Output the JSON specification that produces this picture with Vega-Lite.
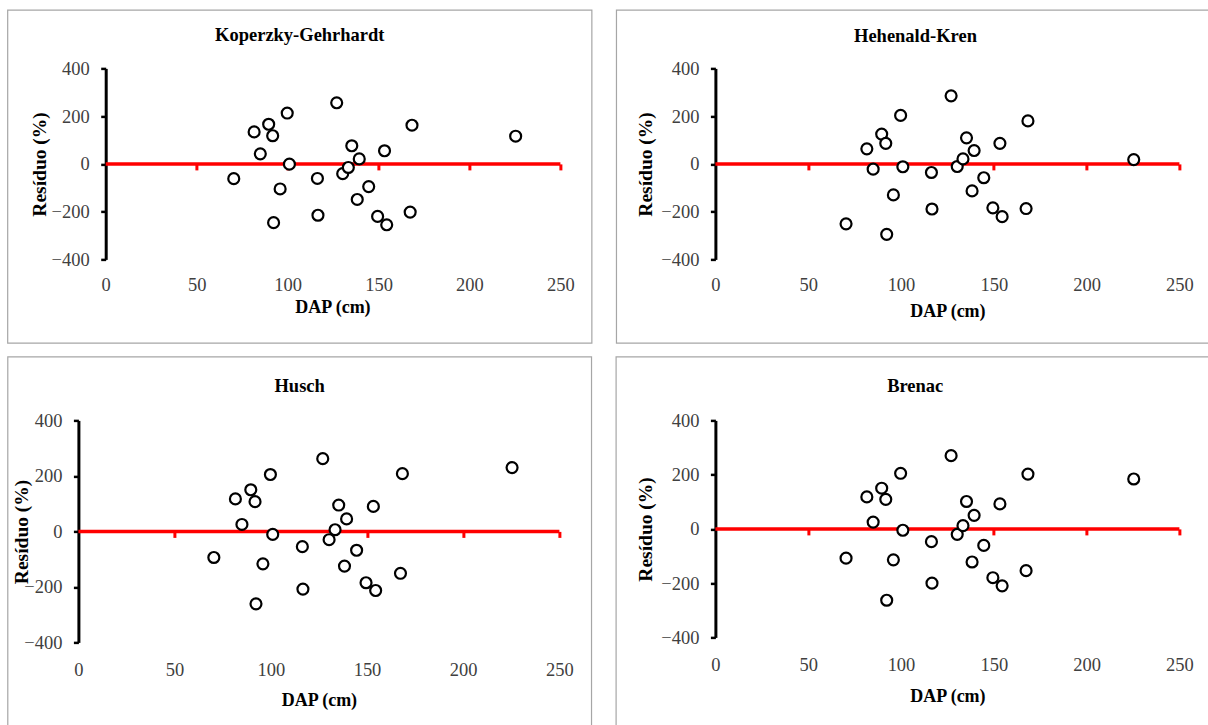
{
  "$schema": "https://vega.github.io/schema/vega-lite/v6.json",
  "background": "white",
  "padding": {"left": 6.4, "top": 9.4, "right": 0, "bottom": 0},
  "columns": 2,
  "spacing": {"row": 11, "column": 22},
  "datasets": {
    "res": [
      {"DAP": 70.4, "KG": -62, "HK": -251, "HU": -94, "BR": -108},
      {"DAP": 81.6, "KG": 134, "HK": 63, "HU": 117, "BR": 118},
      {"DAP": 85.0, "KG": 42, "HK": -22, "HU": 25, "BR": 25},
      {"DAP": 89.6, "KG": 166, "HK": 125, "HU": 150, "BR": 150},
      {"DAP": 91.8, "KG": 118, "HK": 86, "HU": 107, "BR": 109},
      {"DAP": 92.3, "KG": -246, "HK": -295, "HU": -261, "BR": -263},
      {"DAP": 95.9, "KG": -105, "HK": -130, "HU": -117, "BR": -114},
      {"DAP": 99.8, "KG": 213, "HK": 203, "HU": 205, "BR": 205},
      {"DAP": 101.0, "KG": -1, "HK": -12, "HU": -11, "BR": -5},
      {"DAP": 116.4, "KG": -61, "HK": -36, "HU": -55, "BR": -47},
      {"DAP": 116.7, "KG": -215, "HK": -189, "HU": -208, "BR": -200},
      {"DAP": 127.0, "KG": 256, "HK": 285, "HU": 262, "BR": 270},
      {"DAP": 130.3, "KG": -41, "HK": -11, "HU": -30, "BR": -20},
      {"DAP": 133.4, "KG": -15, "HK": 21, "HU": 6, "BR": 12},
      {"DAP": 135.3, "KG": 76, "HK": 109, "HU": 95, "BR": 101},
      {"DAP": 139.4, "KG": 21, "HK": 56, "HU": 45, "BR": 50},
      {"DAP": 138.3, "KG": -149, "HK": -113, "HU": -125, "BR": -122},
      {"DAP": 144.6, "KG": -95, "HK": -58, "HU": -68, "BR": -61},
      {"DAP": 149.5, "KG": -220, "HK": -184, "HU": -185, "BR": -180},
      {"DAP": 154.5, "KG": -255, "HK": -221, "HU": -213, "BR": -210},
      {"DAP": 153.3, "KG": 55, "HK": 86, "HU": 90, "BR": 92},
      {"DAP": 167.4, "KG": -202, "HK": -187, "HU": -151, "BR": -154},
      {"DAP": 168.4, "KG": 162, "HK": 180, "HU": 208, "BR": 202},
      {"DAP": 225.4, "KG": 116, "HK": 18, "HU": 230, "BR": 184}
    ]
  },
  "concat": [
    {
      "title": {"text": "Koperzky-Gehrhardt", "offset": -50, "baseline": "alphabetic", "frame": "bounds", "anchor": "middle"},
      "width": 482, "height": 191,
      "layer": [
        {"data": {"values": [{}]}, "mark": {"type": "rect", "fillOpacity": 0, "stroke": "#a6a6a6", "strokeWidth": 1.2},
         "encoding": {"x": {"datum": -53.9, "type": "quantitative", "axis": null, "scale": {"domain": [-15.02, 250], "nice": false, "zero": false}}, "x2": {"datum": 267.3},
                      "y": {"datum": 644.2, "type": "quantitative", "scale": {"domain": [-400, 400], "nice": false}, "axis": {"values": [-400, -200, 0, 200, 400], "title": "Resíduo (%)", "titlePadding": 1.5, "offset": -27.3}}, "y2": {"datum": -750.6}}},
        {"data": {"values": [{}]}, "mark": {"type": "rule", "color": "#ff0000", "strokeWidth": 3.5},
         "encoding": {"x": {"datum": 0, "type": "quantitative", "axis": {"orient": "bottom", "offset": -95.5, "domain": false, "ticks": true, "tickColor": "#ff0000", "tickWidth": 3, "tickSize": 6, "labels": false, "title": null, "grid": false, "values": [50, 100, 150, 200, 250]}}, "x2": {"datum": 250},
                      "y": {"datum": 0, "type": "quantitative", "axis": {"values": [-400, -200, 0, 200, 400], "title": "Resíduo (%)", "titlePadding": 1.5, "offset": -27.3}}}},
        {"data": {"name": "res"}, "mark": {"type": "point", "shape": "circle", "fill": "white", "stroke": "black", "strokeWidth": 2.2, "size": 120, "opacity": 1, "fillOpacity": 1},
         "encoding": {"x": {"field": "DAP", "type": "quantitative", "axis": {"orient": "bottom", "values": [0, 50, 100, 150, 200, 250], "domain": false, "ticks": false, "tickSize": 0, "labelPadding": 16.5, "title": "DAP (cm)", "titlePadding": 4, "titleX": 254}},
                      "y": {"field": "KG", "type": "quantitative", "axis": {"values": [-400, -200, 0, 200, 400], "title": "Resíduo (%)", "titlePadding": 1.5, "offset": -27.3}}}}
      ],
      "resolve": {"axis": {"x": "independent"}}
    },
    {
      "title": {"text": "Hehenald-Kren", "offset": -51.5, "baseline": "alphabetic", "frame": "bounds", "anchor": "middle"},
      "width": 464, "height": 191,
      "layer": [
        {"data": {"values": [{}]}, "mark": {"type": "rect", "fillOpacity": 0, "stroke": "#a6a6a6", "strokeWidth": 1.2},
         "encoding": {"x": {"datum": -53.3, "type": "quantitative", "axis": null, "scale": {"domain": [0, 250], "nice": false}}, "x2": {"datum": 268.9},
                      "y": {"datum": 644.2, "type": "quantitative", "scale": {"domain": [-400, 400], "nice": false}, "axis": {"values": [-400, -200, 0, 200, 400], "title": "Resíduo (%)", "titlePadding": 5}}, "y2": {"datum": -750.6}}},
        {"data": {"values": [{}]}, "mark": {"type": "rule", "color": "#ff0000", "strokeWidth": 3.5},
         "encoding": {"x": {"datum": 0, "type": "quantitative", "axis": {"orient": "bottom", "offset": -95.5, "domain": false, "ticks": true, "tickColor": "#ff0000", "tickWidth": 3, "tickSize": 6, "labels": false, "title": null, "grid": false, "values": [50, 100, 150, 200, 250]}}, "x2": {"datum": 250},
                      "y": {"datum": 0, "type": "quantitative", "axis": {"values": [-400, -200, 0, 200, 400], "title": "Resíduo (%)", "titlePadding": 5}}}},
        {"data": {"name": "res"}, "mark": {"type": "point", "shape": "circle", "fill": "white", "stroke": "black", "strokeWidth": 2.2, "size": 120, "opacity": 1, "fillOpacity": 1},
         "encoding": {"x": {"field": "DAP", "type": "quantitative", "axis": {"orient": "bottom", "values": [0, 50, 100, 150, 200, 250], "domain": false, "ticks": false, "tickSize": 0, "labelPadding": 15.7, "title": "DAP (cm)", "titlePadding": 9}},
                      "y": {"field": "HK", "type": "quantitative", "axis": {"values": [-400, -200, 0, 200, 400], "title": "Resíduo (%)", "titlePadding": 5}}}}
      ],
      "resolve": {"axis": {"x": "independent"}}
    },
    {
      "title": {"text": "Husch", "offset": -54, "baseline": "alphabetic", "frame": "bounds", "anchor": "middle"},
      "width": 481, "height": 222,
      "layer": [
        {"data": {"values": [{}]}, "mark": {"type": "rect", "fillOpacity": 0, "stroke": "#a6a6a6", "strokeWidth": 1.2},
         "encoding": {"x": {"datum": -36.7, "type": "quantitative", "axis": null, "scale": {"domain": [0, 250], "nice": false}}, "x2": {"datum": 266.7},
                      "y": {"datum": 629.2, "type": "quantitative", "scale": {"domain": [-400, 400], "nice": false}, "axis": {"values": [-400, -200, 0, 200, 400], "title": "Resíduo (%)", "titlePadding": -7.5}}, "y2": {"datum": -729.4}}},
        {"data": {"values": [{}]}, "mark": {"type": "rule", "color": "#ff0000", "strokeWidth": 3.5},
         "encoding": {"x": {"datum": 0, "type": "quantitative", "axis": {"orient": "bottom", "offset": -111, "domain": false, "ticks": true, "tickColor": "#ff0000", "tickWidth": 3, "tickSize": 6, "labels": false, "title": null, "grid": false, "values": [50, 100, 150, 200, 250]}}, "x2": {"datum": 250},
                      "y": {"datum": 0, "type": "quantitative", "axis": {"values": [-400, -200, 0, 200, 400], "title": "Resíduo (%)", "titlePadding": -7.5}}}},
        {"data": {"name": "res"}, "mark": {"type": "point", "shape": "circle", "fill": "white", "stroke": "black", "strokeWidth": 2.2, "size": 120, "opacity": 1, "fillOpacity": 1},
         "encoding": {"x": {"field": "DAP", "type": "quantitative", "axis": {"orient": "bottom", "values": [0, 50, 100, 150, 200, 250], "domain": false, "ticks": false, "tickSize": 0, "labelPadding": 18.2, "title": "DAP (cm)", "titlePadding": 12.5}},
                      "y": {"field": "HU", "type": "quantitative", "axis": {"values": [-400, -200, 0, 200, 400], "title": "Resíduo (%)", "titlePadding": -7.5}}}}
      ],
      "resolve": {"axis": {"x": "independent"}}
    },
    {
      "title": {"text": "Brenac", "offset": -54.5, "baseline": "alphabetic", "frame": "bounds", "anchor": "middle"},
      "width": 464, "height": 217,
      "layer": [
        {"data": {"values": [{}]}, "mark": {"type": "rect", "fillOpacity": 0, "stroke": "#a6a6a6", "strokeWidth": 1.2},
         "encoding": {"x": {"datum": -53.5, "type": "quantitative", "axis": null, "scale": {"domain": [0, 250], "nice": false}}, "x2": {"datum": 268.8},
                      "y": {"datum": 634.5, "type": "quantitative", "scale": {"domain": [-400, 400], "nice": false}, "axis": {"values": [-400, -200, 0, 200, 400], "title": "Resíduo (%)", "titlePadding": 5.5}}, "y2": {"datum": -755.4}}},
        {"data": {"values": [{}]}, "mark": {"type": "rule", "color": "#ff0000", "strokeWidth": 3.5},
         "encoding": {"x": {"datum": 0, "type": "quantitative", "axis": {"orient": "bottom", "offset": -108.5, "domain": false, "ticks": true, "tickColor": "#ff0000", "tickWidth": 3, "tickSize": 6, "labels": false, "title": null, "grid": false, "values": [50, 100, 150, 200, 250]}}, "x2": {"datum": 250},
                      "y": {"datum": 0, "type": "quantitative", "axis": {"values": [-400, -200, 0, 200, 400], "title": "Resíduo (%)", "titlePadding": 5.5}}}},
        {"data": {"name": "res"}, "mark": {"type": "point", "shape": "circle", "fill": "white", "stroke": "black", "strokeWidth": 2.2, "size": 120, "opacity": 1, "fillOpacity": 1},
         "encoding": {"x": {"field": "DAP", "type": "quantitative", "axis": {"orient": "bottom", "values": [0, 50, 100, 150, 200, 250], "domain": false, "ticks": false, "tickSize": 0, "labelPadding": 18.2, "title": "DAP (cm)", "titlePadding": 13}},
                      "y": {"field": "BR", "type": "quantitative", "axis": {"values": [-400, -200, 0, 200, 400], "title": "Resíduo (%)", "titlePadding": 5.5}}}}
      ],
      "resolve": {"axis": {"x": "independent"}}
    }
  ],
  "config": {
    "view": {"stroke": null},
    "axis": {
      "grid": false, "labelFlush": false,
      "labelFont": "Liberation Serif", "labelFontSize": 18.5, "labelColor": "#404040",
      "titleFont": "Liberation Serif", "titleFontSize": 18, "titleFontWeight": "bold", "titleColor": "#000000"
    },
    "axisY": {
      "domainColor": "#000000", "domainWidth": 3, "tickColor": "#000000", "tickWidth": 2.5, "tickSize": 5, "labelPadding": 11.5, "titleFontSize": 19.5
    },
    "title": {"font": "Liberation Serif", "fontSize": 18.5, "fontWeight": "bold", "color": "#000000"}
  }
}
